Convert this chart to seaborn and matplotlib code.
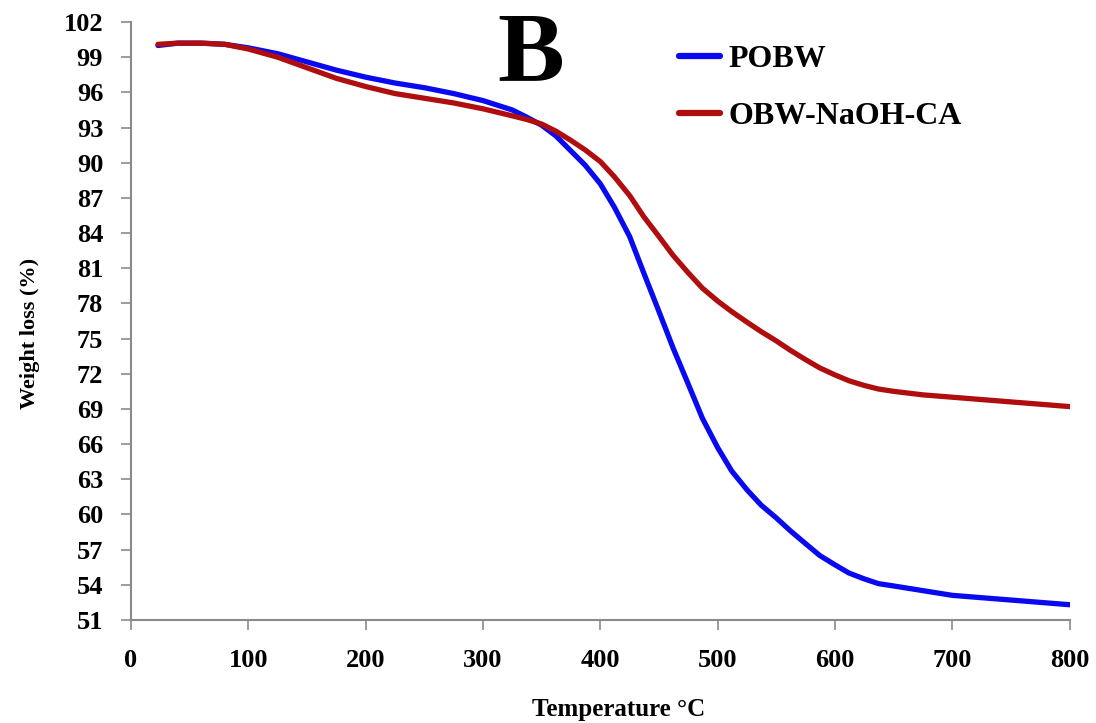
import matplotlib
matplotlib.use('Agg')
import matplotlib.pyplot as plt
import numpy as np
import pandas as pd
import seaborn as sns

# temperature grid (°C) and weight readings
temp = [23, 40, 60, 80, 100, 125, 150, 175, 200, 225, 250, 275, 300, 325, 337,
        350, 362, 375, 387, 400, 412, 425, 437, 450, 462, 475, 487, 500, 512,
        525, 537, 550, 562, 575, 587, 600, 612, 625, 637, 650, 675, 700, 725,
        750, 775, 800]
pobw = [100.0, 100.2, 100.2, 100.1, 99.8, 99.3, 98.6, 97.9, 97.3, 96.8, 96.4,
        95.9, 95.3, 94.5, 93.9, 93.2, 92.3, 91.0, 89.8, 88.2, 86.2, 83.7, 80.6,
        77.3, 74.2, 71.1, 68.2, 65.7, 63.7, 62.1, 60.8, 59.7, 58.6, 57.5, 56.5,
        55.7, 55.0, 54.5, 54.1, 53.9, 53.5, 53.1, 52.9, 52.7, 52.5, 52.3]
obw_naoh_ca = [100.1, 100.2, 100.2, 100.1, 99.7, 99.0, 98.1, 97.2, 96.5, 95.9,
               95.5, 95.1, 94.6, 94.0, 93.7, 93.3, 92.7, 91.9, 91.1, 90.1, 88.8,
               87.2, 85.4, 83.7, 82.1, 80.6, 79.3, 78.2, 77.3, 76.4, 75.6, 74.8,
               74.0, 73.2, 72.5, 71.9, 71.4, 71.0, 70.7, 70.5, 70.2, 70.0, 69.8,
               69.6, 69.4, 69.2]
series_names = ["POBW", "OBW-NaOH-CA"]
series_colors = ["#0A0AF0", "#B00E0E"]
y_ticks = list(range(51, 103, 3))
x_ticks = list(range(0, 801, 100))

df = pd.concat([
    pd.DataFrame({"temp": temp, "weight": pobw, "sample": series_names[0]}),
    pd.DataFrame({"temp": temp, "weight": obw_naoh_ca, "sample": series_names[1]}),
])

sns.set_style("ticks")
plt.rcParams['font.family'] = ['Liberation Serif', 'DejaVu Serif']
plt.rcParams['font.weight'] = 'bold'
plt.rcParams['text.color'] = 'black'
plt.rcParams['axes.labelcolor'] = 'black'
plt.rcParams['xtick.labelcolor'] = 'black'
plt.rcParams['ytick.labelcolor'] = 'black'

fig = plt.figure(figsize=(10.96, 7.23), dpi=100)
ax = fig.add_axes([0.1195, 0.1425, 0.8565, 0.827])

sns.lineplot(data=df, x="temp", y="weight", hue="sample",
             palette=dict(zip(series_names, series_colors)),
             linewidth=3.8, ax=ax, estimator=None, sort=False,
             solid_joinstyle='round', solid_capstyle='round')

ax.set_xlim(0, 800)
ax.set_ylim(51, 102)
ax.set_xticks(x_ticks)
ax.set_yticks(y_ticks)
ax.tick_params(axis='both', labelsize=19, color="#8a8a8a", length=7, width=1.2)
for lab in ax.get_xticklabels() + ax.get_yticklabels():
    lab.set_fontweight('bold')
ax.tick_params(axis='x', pad=14)
ax.tick_params(axis='y', pad=13)

sns.despine(ax=ax)
for side in ["left", "bottom"]:
    ax.spines[side].set_color("#8a8a8a")
    ax.spines[side].set_linewidth(1.5)

ax.set_xlabel("Temperature °C", fontsize=18, fontweight='bold')
ax.set_ylabel("Weight loss (%)", fontsize=16, fontweight='bold')
ax.xaxis.set_label_coords(0.52, -0.13)
ax.yaxis.set_label_coords(-0.097, 0.48)

ax.text(0.426, 0.943, "B", transform=ax.transAxes, fontsize=72,
        fontweight='bold', ha='center', va='center')

leg = ax.legend(loc="upper left", bbox_to_anchor=(0.553, 1.01), frameon=False,
                fontsize=23, handlelength=1.3, handletextpad=0.25,
                labelspacing=0.85)
for t in leg.get_texts():
    t.set_fontweight('bold')
for h in leg.get_lines():
    h.set_linewidth(4.5)

fig.savefig("out.png", dpi=100)
